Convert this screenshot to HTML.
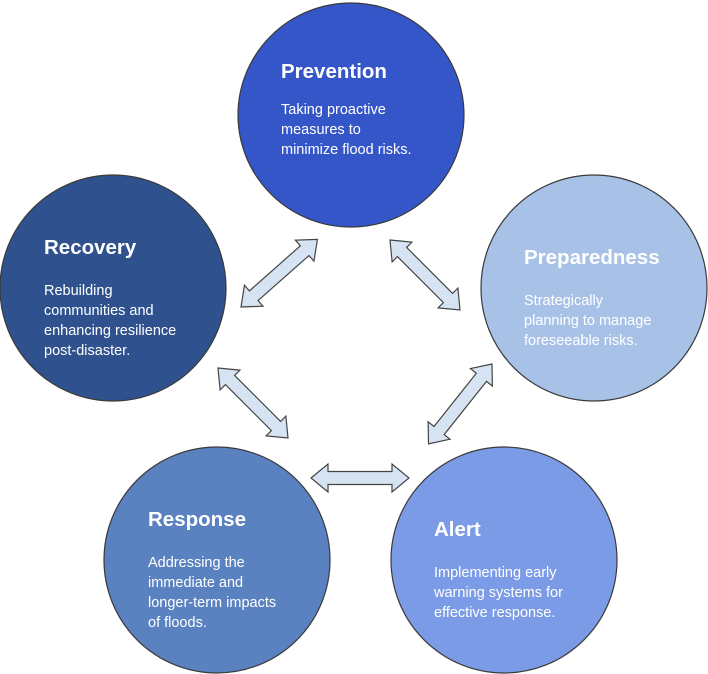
<!DOCTYPE html>
<html><head><meta charset="utf-8"><style>
html,body{margin:0;padding:0;background:#fff;}
svg{display:block;}
text{font-family:"Liberation Sans",Arial,sans-serif;fill:#fff;}
.t{font-size:20.5px;font-weight:bold;}
.d{font-size:14.5px;}
</style></head><body>
<svg width="708" height="674" viewBox="0 0 708 674" xmlns="http://www.w3.org/2000/svg">
<g stroke="#3a3a3a" stroke-width="1.2">
<ellipse cx="351" cy="115" rx="113" ry="112" fill="#3556c8"/>
<ellipse cx="113" cy="288" rx="113" ry="113" fill="#2f528f"/>
<ellipse cx="594" cy="288" rx="113" ry="113" fill="#a8c2e7"/>
<ellipse cx="217" cy="560" rx="113" ry="113" fill="#5a82c1"/>
<ellipse cx="504" cy="560" rx="113" ry="113" fill="#7b9be6"/>
</g>
<g fill="#d6e3f3" stroke="#444" stroke-width="1.2">
<g transform="translate(241,307) rotate(-41.5)"><polygon points="0,0 17,-14 17,-6.5 85,-6.5 85,-14 102,0 85,14 85,6.5 17,6.5 17,14"/></g>
<g transform="translate(390,240) rotate(45)"><polygon points="0,0 17,-14 17,-6.5 82,-6.5 82,-14 99,0 82,14 82,6.5 17,6.5 17,14"/></g>
<g transform="translate(218,368) rotate(45)"><polygon points="0,0 17,-14 17,-6.5 82,-6.5 82,-14 99,0 82,14 82,6.5 17,6.5 17,14"/></g>
<g transform="translate(492,364) rotate(128.5)"><polygon points="0,0 17,-14 17,-6.5 85,-6.5 85,-14 102,0 85,14 85,6.5 17,6.5 17,14"/></g>
<g transform="translate(311,478)"><polygon points="0,0 17,-14 17,-6.5 81,-6.5 81,-14 98,0 81,14 81,6.5 17,6.5 17,14"/></g>
</g>
<text class="t" x="281" y="78">Prevention</text>
<text class="d" x="281" y="114">Taking proactive</text>
<text class="d" x="281" y="134">measures to</text>
<text class="d" x="281" y="154">minimize flood risks.</text>

<text class="t" x="44" y="254">Recovery</text>
<text class="d" x="44" y="295">Rebuilding</text>
<text class="d" x="44" y="315">communities and</text>
<text class="d" x="44" y="335">enhancing resilience</text>
<text class="d" x="44" y="355">post-disaster.</text>

<text class="t" x="524" y="264">Preparedness</text>
<text class="d" x="524" y="305">Strategically</text>
<text class="d" x="524" y="325">planning to manage</text>
<text class="d" x="524" y="345">foreseeable risks.</text>

<text class="t" x="148" y="526">Response</text>
<text class="d" x="148" y="567">Addressing the</text>
<text class="d" x="148" y="587">immediate and</text>
<text class="d" x="148" y="607">longer-term impacts</text>
<text class="d" x="148" y="627">of floods.</text>

<text class="t" x="434" y="536">Alert</text>
<text class="d" x="434" y="577">Implementing early</text>
<text class="d" x="434" y="597">warning systems for</text>
<text class="d" x="434" y="617">effective response.</text>
</svg>
</body></html>
